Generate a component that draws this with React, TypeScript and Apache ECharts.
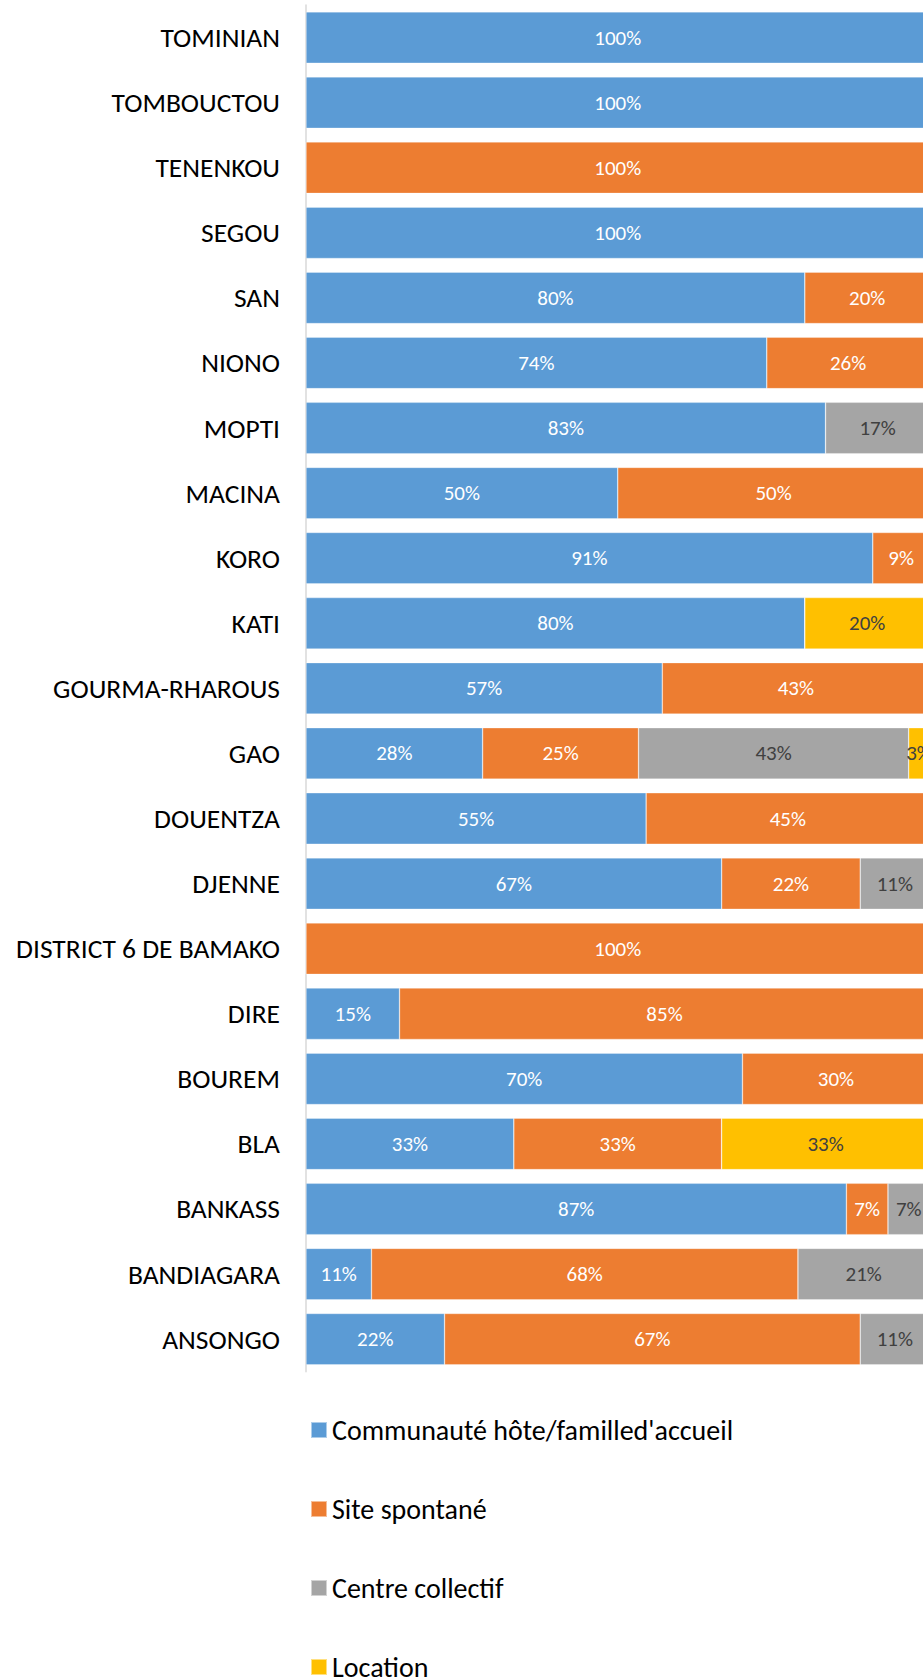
import React, { useEffect, useRef } from "react";
import * as echarts from "echarts";

const categories = [
  "TOMINIAN", "TOMBOUCTOU", "TENENKOU", "SEGOU", "SAN", "NIONO", "MOPTI",
  "MACINA", "KORO", "KATI", "GOURMA-RHAROUS", "GAO", "DOUENTZA", "DJENNE",
  "DISTRICT 6 DE BAMAKO", "DIRE", "BOUREM", "BLA", "BANKASS", "BANDIAGARA", "ANSONGO",
];

const seriesNames = [
  "Communauté hôte/familled'accueil",
  "Site spontané",
  "Centre collectif",
  "Location",
];

const communaute = [100, 100, 0, 100, 80, 73.9, 83.33, 50, 90.9, 80, 57.14, 28.33, 54.55, 66.67, 0, 15, 70, 33.33, 86.67, 10.5, 22.22];
const siteSpontane = [0, 0, 100, 0, 20, 26.1, 0, 50, 9.1, 0, 42.86, 25, 45.45, 22.22, 100, 85, 30, 33.33, 6.67, 68.4, 66.67];
const centreCollectif = [0, 0, 0, 0, 0, 0, 16.67, 0, 0, 0, 0, 43.33, 0, 11.11, 0, 0, 0, 0, 6.67, 21.1, 11.11];
const location = [0, 0, 0, 0, 0, 0, 0, 0, 0, 20, 0, 3.33, 0, 0, 0, 0, 0, 33.33, 0, 0, 0];

const colors = ["#5B9BD5", "#ED7D31", "#A5A5A5", "#FFC000"];
const labelColors = ["#ffffff", "#ffffff", "#404040", "#404040"];
const FONT = "Carlito, Calibri, Lato, sans-serif";

export default function App() {
  const ref = useRef<HTMLDivElement>(null);
  useEffect(() => {
    if (!ref.current) return;
    const chart = echarts.init(ref.current, undefined, { renderer: "svg" });
    const allData = [communaute, siteSpontane, centreCollectif, location];
    chart.setOption({
      animation: false,
      textStyle: { fontFamily: FONT },
      grid: { left: 306, width: 623.5, top: 5, height: 1366.7 },
      xAxis: {
        type: "value",
        min: 0,
        max: 100,
        show: false,
        splitLine: { show: false },
      },
      yAxis: {
        type: "category",
        inverse: true,
        data: categories,
        axisLine: { show: true, lineStyle: { color: "#d9d9d9", width: 1.5 } },
        axisTick: { show: false },
        axisLabel: { color: "#000", fontSize: 27.5, margin: 26, fontFamily: FONT },
      },
      legend: {
        orient: "vertical",
        left: 305,
        top: 1408,
        itemWidth: 16,
        itemHeight: 16,
        itemGap: 45,
        icon: "rect",
        textStyle: { color: "#000", fontSize: 28, lineHeight: 34, fontFamily: FONT },
        data: seriesNames,
      },
      series: allData.map((d, i) => ({
        name: seriesNames[i],
        type: "bar",
        stack: "total",
        barWidth: "79%",
        data: d,
        itemStyle: { color: colors[i], borderColor: "rgba(255,255,255,0.5)", borderWidth: 0.6 },
        label: {
          show: true,
          position: "inside",
          color: labelColors[i],
          fontSize: 21,
          fontFamily: FONT,
          formatter: (p: any) => (p.value > 0 ? Math.round(p.value) + "%" : ""),
        },
      })),
    });
    return () => chart.dispose();
  }, []);
  return (
    <div style={{ position: "absolute", left: 0, top: 0, width: 923, height: 1680, overflow: "hidden", background: "#fff" }}>
      <div ref={ref} style={{ width: 940, height: 1760 }} />
    </div>
  );
}
